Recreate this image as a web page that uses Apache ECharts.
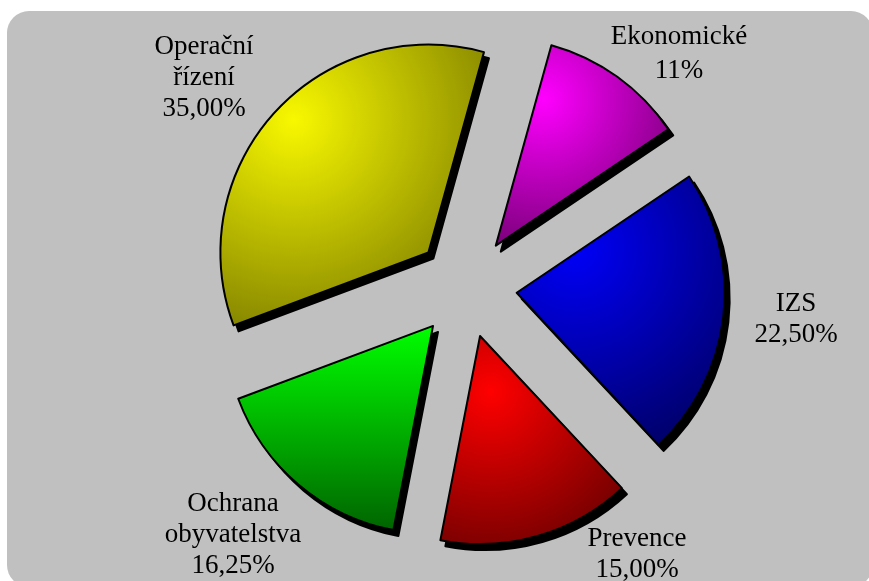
<!DOCTYPE html>
<html lang="cs">
  <head>
    <meta charset="UTF-8" />
    <title>Pie</title>
    <script src="https://cdn.jsdelivr.net/npm/echarts@6/dist/echarts.min.js"></script>
    <style>
      html,
      body {
        margin: 0;
        padding: 0;
        width: 100%;
        height: 100%;
        background: #fff;
        overflow: hidden;
      }
      .panel {
        position: absolute;
        left: 7px;
        top: 11px;
        width: 866px;
        height: 576px;
        background: #c0c0c0;
        border-radius: 22px;
      }
      #chart {
        position: absolute;
        left: 0;
        top: 0;
        width: 869px;
        height: 581px;
      }
    </style>
  </head>
  <body>
    <div class="panel"></div>
    <div id="chart"></div>
    <script>
      // clockwise from the top
      const names = ["Ekonomické", "IZS", "Prevence", "Ochrana obyvatelstva", "Operační řízení"];
      const values = [11.25, 22.5, 15, 16.25, 35];
      const decimals = [0, 2, 2, 2, 2];
      const bright = ["#ff00ff", "#0000f8", "#ff0000", "#00ff00", "#f8f800"];
      const dark = ["#680068", "#00006c", "#680000", "#006400", "#6c6c00"];
      // label block centres (px)
      const labelPos = [
        [679, 54],
        [796, 319],
        [637, 554],
        [233, 535],
        [204, 78],
      ];

      const cx = 466;
      const cy = 287;
      const radius = 208;
      const explode = 51;

      function fillFor(i) {
        if (i === 3) {
          return new echarts.graphic.LinearGradient(0, 0, 0, 1, [
            { offset: 0, color: bright[i] },
            { offset: 1, color: dark[i] },
          ]);
        }
        return new echarts.graphic.RadialGradient(0.28, 0.27, 1, [
          { offset: 0, color: bright[i] },
          { offset: 1, color: dark[i] },
        ]);
      }

      function fmt(i) {
        return values[i].toFixed(decimals[i]).replace(".", ",") + "%";
      }

      const chart = echarts.init(document.getElementById("chart"));

      const base = {
        type: "pie",
        radius: radius,
        startAngle: 74.5,
        clockwise: true,
        avoidLabelOverlap: false,
        silent: true,
        labelLine: { show: false },
      };

      const option = {
        animation: false,
        backgroundColor: "transparent",
        series: [
          // hard shadow underneath
          Object.assign({}, base, {
            z: 1,
            center: [cx + 5, cy + 6],
            selectedMode: "multiple",
            selectedOffset: explode,
            label: { show: false },
            itemStyle: { color: "#000", borderColor: "#000", borderWidth: 2 },
            data: names.map((n, i) => ({ name: n, value: values[i], selected: true })),
          }),
          // exploded slices
          Object.assign({}, base, {
            z: 2,
            center: [cx, cy],
            selectedMode: "multiple",
            selectedOffset: explode,
            label: { show: false },
            itemStyle: { borderColor: "#000", borderWidth: 2 },
            data: names.map((n, i) => ({
              name: n,
              value: values[i],
              selected: true,
              itemStyle: { color: fillFor(i) },
            })),
          }),
          // labels only (not exploded, so labelLayout x/y stay global)
          Object.assign({}, base, {
            z: 3,
            center: [cx, cy],
            itemStyle: { color: "transparent", borderWidth: 0 },
            label: {
              show: true,
              position: "outside",
              color: "#000",
              fontFamily: "Liberation Serif",
              fontSize: 27,
              lineHeight: 31,
              align: "center",
              formatter: (p) => p.name.replace(" ", "\n") + "\n" + fmt(p.dataIndex),
            },
            labelLayout: (p) => ({
              x: labelPos[p.dataIndex][0],
              y: labelPos[p.dataIndex][1],
              align: "center",
              verticalAlign: "middle",
            }),
            data: names.map((n, i) => ({
              name: n,
              value: values[i],
              label: i === 0 ? { lineHeight: 34 } : undefined,
            })),
          }),
        ],
      };

      chart.setOption(option);
    </script>
  </body>
</html>
